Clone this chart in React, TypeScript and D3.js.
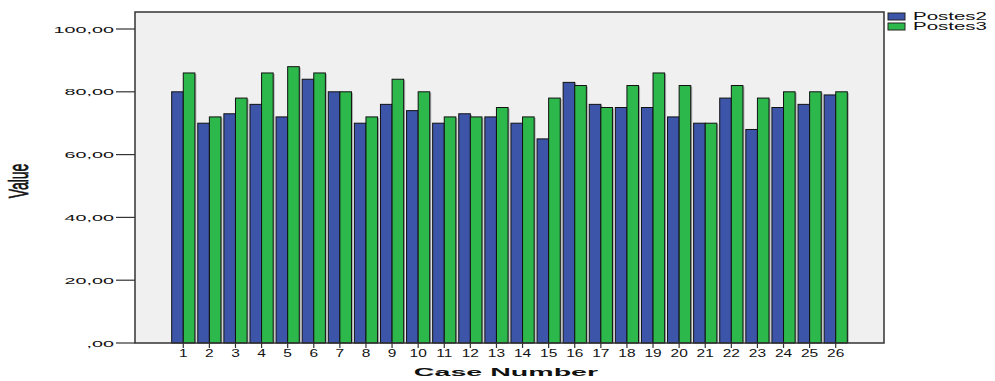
import React from "react";
import * as d3 from "d3";

const cases = d3.range(1, 27).map(String);
const postes2 = [80, 70, 73, 76, 72, 84, 80, 70, 76, 74, 70, 73, 72, 70, 65, 83, 76, 75, 75, 72, 70, 78, 68, 75, 76, 79];
const postes3 = [86, 72, 78, 86, 88, 86, 80, 72, 84, 80, 72, 72, 75, 72, 78, 82, 75, 82, 86, 82, 70, 82, 78, 80, 80, 80];
const yTicks = [0, 20, 40, 60, 80, 100];
const seriesNames = ["Postes2", "Postes3"];
const colors = ["#3c55a9", "#2db84b"];

const W = 995, H = 381;
const frame = { left: 135, right: 884, top: 12, bottom: 343 };

function fmt(v: number) {
  return v === 0 ? ",00" : `${v},00`;
}

function SText({ x, y, sx, anchor, size, weight, children, rotate, stroke }: any) {
  const t = `translate(${x},${y}) scale(${sx},1)${rotate ? ` rotate(${rotate})` : ""}`;
  return (
    <text transform={t} textAnchor={anchor} fontSize={size} fontWeight={weight || "normal"}
      fontFamily="Liberation Sans, Arial, sans-serif" fill="#111"
      stroke={stroke ? "#111" : "none"} strokeWidth={stroke || 0}>
      {children}
    </text>
  );
}

export default function App() {
  const x = d3.scalePoint<string>().domain(cases).range([frame.left, frame.right]).padding(1.85);
  const y = d3.scaleLinear().domain([0, 100]).range([frame.bottom, 29]);
  const bw = 11.6;
  const series = [postes2, postes3];

  return (
    <svg width={W} height={H} style={{ position: "absolute", left: 0, top: 0 }}>
      <rect x={0} y={0} width={W} height={H} fill="#fff" />
      <rect x={frame.left} y={frame.top} width={frame.right - frame.left} height={frame.bottom - frame.top}
        fill="#f0f0f0" />
      {cases.map((c, i) => (
        <g key={c}>
          {series.map((s, k) => {
            const bx = (x(c) as number) - bw + k * bw;
            return (
              <g key={k}>
                <rect x={bx + 1.5} y={y(s[i]) + 1} width={bw} height={frame.bottom - y(s[i]) - 1}
                  fill="#777" opacity={0.55} />
                <rect x={bx} y={y(s[i])} width={bw} height={frame.bottom - y(s[i])}
                  fill={colors[k]} stroke="#111" strokeWidth={1} />
              </g>
            );
          })}
        </g>
      ))}
      <rect x={frame.left} y={frame.top} width={frame.right - frame.left} height={frame.bottom - frame.top}
        fill="none" stroke="#333" strokeWidth={1.5} />
      {yTicks.map((t) => (
        <g key={t}>
          <line x1={116} x2={frame.left} y1={y(t)} y2={y(t)} stroke="#333" strokeWidth={1.2} />
          <SText x={114} y={y(t) + 3.5} sx={2.2} anchor="end" size={9}>{fmt(t)}</SText>
        </g>
      ))}
      {cases.map((c) => (
        <g key={c}>
          <line x1={x(c)} x2={x(c)} y1={frame.bottom} y2={frame.bottom + 5} stroke="#333" strokeWidth={1.2} />
          <SText x={x(c)} y={357} sx={1.55} anchor="middle" size={10}>{c}</SText>
        </g>
      ))}
      <SText x={506} y={376} sx={2.6} anchor="middle" size={11} weight="bold">Case Number</SText>
      <SText x={28} y={181} sx={2.0} anchor="middle" size={14} rotate={-90} stroke={0.4}>Value</SText>
      {seriesNames.map((n, k) => (
        <g key={n}>
          <rect x={888} y={13 + k * 10} width={17} height={7} fill={colors[k]} stroke="#222" strokeWidth={1} />
          <SText x={913} y={20 + k * 10} sx={2.05} anchor="start" size={10}>{n}</SText>
        </g>
      ))}
    </svg>
  );
}
